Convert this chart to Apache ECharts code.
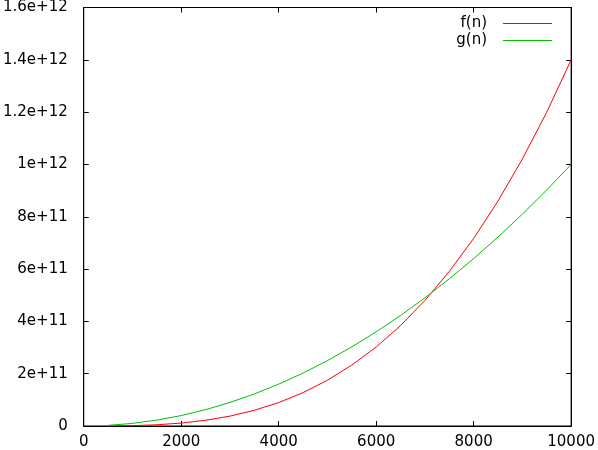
<!DOCTYPE html>
<html>
<head>
<meta charset="utf-8">
<script src="https://cdn.jsdelivr.net/npm/echarts@6/dist/echarts.min.js"></script>
<style>
html,body{margin:0;padding:0;background:#fff;}
#c{width:598px;height:450px;}
</style>
</head>
<body>
<div id="c"></div>
<script>
const nValues = [500, 1000, 1500, 2000, 2500, 3000, 3500, 4000, 4500, 5000, 5500, 6000, 6500, 7000, 7500, 8000, 8500, 9000, 9500, 10000];
const fValues = [1.8e8, 1.4e9, 4.7e9, 1.12e10, 2.19e10, 3.78e10, 6.0e10, 8.96e10, 1.276e11, 1.75e11, 2.33e11, 3.02e11, 3.84e11, 4.80e11, 5.91e11, 7.17e11, 8.60e11, 1.021e12, 1.20e12, 1.40e12];
const gValues = [2.5e9, 1.0e10, 2.25e10, 4.0e10, 6.25e10, 9.0e10, 1.225e11, 1.6e11, 2.025e11, 2.5e11, 3.025e11, 3.6e11, 4.225e11, 4.9e11, 5.625e11, 6.4e11, 7.225e11, 8.1e11, 9.025e11, 1.0e12];
const seriesNames = ['f(n)', 'g(n)'];
const seriesColors = ['#ff0000', '#00c000'];

function gpFormat(v) {
  if (v === 0) return '0';
  const e = Math.floor(Math.log10(Math.abs(v)) + 1e-9);
  const m = Math.round(v / Math.pow(10, e) * 1000) / 1000;
  return m + 'e+' + e;
}

const font = 'DejaVu Sans';
const chart = echarts.init(document.getElementById('c'), null, {renderer: 'canvas'});
const axisBase = {
  axisLine: {show: true, onZero: false, lineStyle: {color: '#000', width: 1}},
  axisTick: {show: true, inside: true, length: 5, lineStyle: {color: '#000', width: 1}},
  splitLine: {show: false}
};
const xCommon = Object.assign({type: 'value', min: 0, max: 10000, interval: 2000}, axisBase);
const yCommon = Object.assign({type: 'value', min: 0, max: 1.6e12, interval: 2e11}, axisBase);

chart.setOption({
  animation: false,
  backgroundColor: '#fff',
  textStyle: {fontFamily: font},
  grid: {left: 82, right: 25, top: 7, bottom: 24, containLabel: false, show: true, borderColor: '#000', borderWidth: 1, backgroundColor: 'transparent'},
  legend: {
    orient: 'vertical', right: 41, top: 11, align: 'right',
    itemWidth: 49, itemHeight: 1, itemGap: 2, icon: 'rect',
    textStyle: {fontFamily: font, fontSize: 15, color: '#000', padding: [0, 11, 0, 0]},
    data: seriesNames
  },
  xAxis: [
    Object.assign({}, xCommon, {position: 'bottom', axisLabel: {fontFamily: font, fontSize: 15, color: '#000', margin: 9, formatter: v => String(v)}}),
    Object.assign({}, xCommon, {position: 'top', offset: 0, axisLabel: {show: false}})
  ],
  yAxis: [
    Object.assign({}, yCommon, {position: 'left', axisLabel: {fontFamily: font, fontSize: 15, color: '#000', margin: 16, formatter: gpFormat}}),
    Object.assign({}, yCommon, {position: 'right', axisLabel: {show: false}})
  ],
  series: [
    {name: seriesNames[0], type: 'line', showSymbol: false, symbol: 'none', color: seriesColors[0], lineStyle: {width: 1, color: seriesColors[0]}, data: nValues.map((n, i) => [n, fValues[i]])},
    {name: seriesNames[1], type: 'line', showSymbol: false, symbol: 'none', color: seriesColors[1], lineStyle: {width: 1, color: seriesColors[1]}, data: nValues.map((n, i) => [n, gValues[i]])}
  ]
});
</script>
</body>
</html>
